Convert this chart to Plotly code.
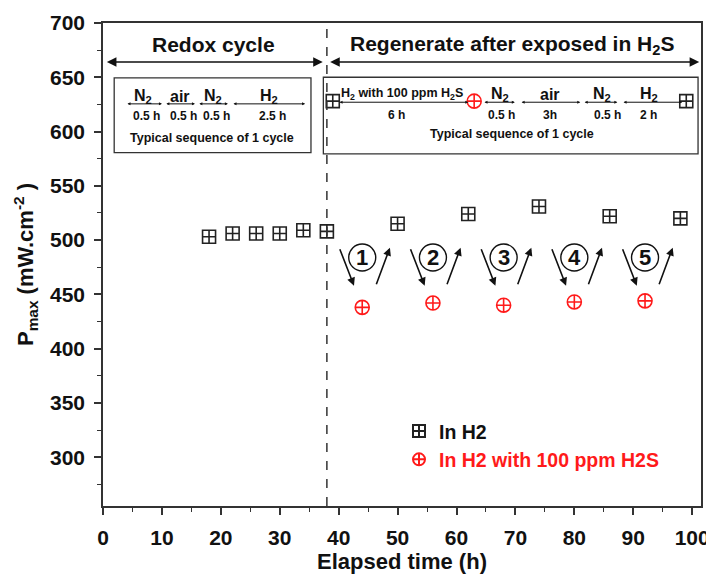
import plotly.graph_objects as go

# ---------------- data ----------------
h2_time = [18, 22, 26, 30, 34, 38, 50, 62, 74, 86, 98]
h2_pmax = [503, 506, 506, 506, 509, 508, 515, 524, 531, 522, 520]

h2s_time = [44, 56, 68, 80, 92]
h2s_pmax = [438, 442, 440, 443, 444]

cycle_labels = ["1", "2", "3", "4", "5"]

# markers drawn inside the "typical sequence" box
box_sq_time = [39, 99]
box_sq_pmax = [628, 628]
box_ci_time = [63]
box_ci_pmax = [628]

redox_seq = ["N<sub>2</sub>", "air", "N<sub>2</sub>", "H<sub>2</sub>"]
redox_dur = ["0.5 h", "0.5 h", "0.5 h", "2.5 h"]
regen_seq = ["H<sub>2</sub> with 100 ppm H<sub>2</sub>S", "N<sub>2</sub>", "air", "N<sub>2</sub>", "H<sub>2</sub>"]
regen_dur = ["6 h", "0.5 h", "3h", "0.5 h", "2 h"]

FONT = "Liberation Sans, Arial, sans-serif"
BLACK = "#111111"
RED = "#ff1a1a"

fig = go.Figure()

fig.add_trace(go.Scatter(
    x=h2_time, y=h2_pmax, mode="markers", name="In H2",
    marker=dict(symbol="square-cross-open", size=13, color="#222222",
                line=dict(width=1.6, color="#222222")),
))
fig.add_trace(go.Scatter(
    x=h2s_time, y=h2s_pmax, mode="markers",
    name="<span style='color:#ff1a1a'>In H2 with 100 ppm H2S</span>",
    marker=dict(symbol="circle-cross-open", size=14, color=RED,
                line=dict(width=1.6, color=RED)),
))
fig.add_trace(go.Scatter(
    x=box_sq_time, y=box_sq_pmax, mode="markers", showlegend=False,
    marker=dict(symbol="square-cross-open", size=13, color="#222222",
                line=dict(width=1.6, color="#222222")),
))
fig.add_trace(go.Scatter(
    x=box_ci_time, y=box_ci_pmax, mode="markers", showlegend=False,
    marker=dict(symbol="circle-cross-open", size=14, color=RED,
                line=dict(width=1.6, color=RED)),
))

shapes = []
annotations = []

# dashed divider
shapes.append(dict(type="line", xref="x", yref="paper", x0=38, x1=38, y0=0, y1=1,
                   line=dict(color="#333333", width=1.5, dash="dash")))

# boxes
shapes.append(dict(type="rect", xref="x", yref="y", x0=1.9, x1=35.3, y0=580.5, y1=649.5,
                   line=dict(color="#333333", width=1.3)))
shapes.append(dict(type="rect", xref="x", yref="y", x0=37.4, x1=101.0, y0=579.5, y1=650.0,
                   line=dict(color="#333333", width=1.3)))


def dbl_arrow(x0, x1, y, size=1.0, width=1.5, head=2):
    annotations.append(dict(x=x1, y=y, ax=x0, ay=y, xref="x", yref="y", axref="x", ayref="y",
                            text="", showarrow=True, arrowhead=head, startarrowhead=head,
                            arrowside="end+start", arrowsize=size, startarrowsize=size,
                            arrowwidth=width, arrowcolor="#111111"))


def text(x, y, s, size, color=BLACK, xanchor="center"):
    annotations.append(dict(x=x, y=y, xref="x", yref="y", text=s, showarrow=False,
                            font=dict(family=FONT, size=size, color=color, weight="bold"),
                            xanchor=xanchor, yanchor="middle"))


# section headers
text(18.7, 680, "Redox cycle", 21)
dbl_arrow(0.4, 37.3, 664, size=1.2, width=1.6)
text(69.4, 680, "Regenerate after exposed in H<sub>2</sub>S", 21)
dbl_arrow(38.3, 101.2, 664, size=1.2, width=1.6)

# redox typical sequence
redox_bounds = [(3.9, 10.0), (10.5, 15.6), (16.1, 21.2), (21.9, 34.3)]
redox_lab_x = [6.8, 13.1, 18.7, 28.2]
for (a, b), lab, dur, lx in zip(redox_bounds, redox_seq, redox_dur, redox_lab_x):
    dbl_arrow(a, b, 625.5, size=0.6, width=1.0)
    text(lx, 632, lab, 16)
    text(lx + 0.6, 614, dur, 12)
text(18.5, 594, "Typical sequence of 1 cycle", 12.5)

# regeneration typical sequence
regen_bounds = [(39.9, 62.0), (64.5, 69.9), (70.8, 81.0), (81.5, 87.3), (88.1, 98.3)]
regen_lab_x = [50.8, 67.4, 75.9, 84.7, 92.6]
regen_lab_y = [634.5, 634.5, 634.5, 634.5, 634.5]
regen_dur_x = [49.9, 67.7, 75.9, 85.6, 92.6]
regen_lab_size = [12.5, 16, 16, 16, 16]
for (a, b), lab, dur, lx, ly, dx, fs in zip(regen_bounds, regen_seq, regen_dur, regen_lab_x,
                                            regen_lab_y, regen_dur_x, regen_lab_size):
    dbl_arrow(a, b, 627, size=0.6, width=1.0)
    text(lx, ly, lab, fs)
    text(dx, 615, dur, 12)
text(69.5, 597.5, "Typical sequence of 1 cycle", 12.5)

# cycle markers: circled number with down/up arrows
for xc, lab in zip(h2s_time, cycle_labels):
    shapes.append(dict(type="circle", xref="x", yref="y", xsizemode="pixel", ysizemode="pixel",
                       xanchor=xc, yanchor=484, x0=-13.5, x1=13.5, y0=-13.5, y1=13.5,
                       line=dict(color="#111111", width=1.4)))
    annotations.append(dict(x=xc, y=484, xref="x", yref="y", text=lab,
                            showarrow=False,
                            font=dict(family=FONT, size=22, color=BLACK, weight="bold"),
                            xanchor="center", yanchor="middle"))
    annotations.append(dict(x=xc - 1.4, y=458, ax=xc - 3.9, ay=493, xref="x", yref="y",
                            axref="x", ayref="y", text="", showarrow=True, arrowhead=2,
                            arrowsize=1, arrowwidth=1.6, arrowcolor="#111111"))
    annotations.append(dict(x=xc + 4.7, y=493, ax=xc + 2.3, ay=458, xref="x", yref="y",
                            axref="x", ayref="y", text="", showarrow=True, arrowhead=2,
                            arrowsize=1, arrowwidth=1.6, arrowcolor="#111111"))

# the page body adds an 8 px offset, so the figure is 8 px smaller than the window
fig.update_layout(
    width=706, height=566,
    margin=dict(l=95, r=13, t=15, b=68, autoexpand=False),
    paper_bgcolor="white", plot_bgcolor="white",
    font=dict(family=FONT, color=BLACK),
    shapes=shapes, annotations=annotations,
    showlegend=True,
    legend=dict(x=0.495, y=0.195, xanchor="left", yanchor="top", bgcolor="rgba(0,0,0,0)",
                font=dict(family=FONT, size=19.5, color=BLACK, weight="bold"), tracegroupgap=0,
                itemsizing="constant"),
)

fig.update_xaxes(
    range=[0, 101.5], tickvals=list(range(0, 101, 10)), ticks="outside", ticklen=7,
    tickwidth=1.5, tickcolor="#333333", showline=True, linecolor="#333333", linewidth=1.5,
    mirror=True, showgrid=False, zeroline=False, ticklabelstandoff=5, automargin=False,
    tickfont=dict(family=FONT, size=21, color=BLACK, weight="bold"),
    minor=dict(dtick=5, tick0=0, ticks="outside", ticklen=4, tickwidth=1.3, tickcolor="#333333"),
    title=dict(text="Elapsed time (h)",
               font=dict(family=FONT, size=22, color=BLACK, weight="bold"), standoff=2),
)
fig.update_yaxes(
    range=[255, 700], tickvals=list(range(300, 701, 50)), ticks="outside", ticklen=7,
    tickwidth=1.5, tickcolor="#333333", showline=True, linecolor="#333333", linewidth=1.5,
    mirror=True, showgrid=False, zeroline=False, ticklabelstandoff=5, automargin=False,
    tickfont=dict(family=FONT, size=21, color=BLACK, weight="bold"),
    minor=dict(dtick=25, tick0=0, ticks="outside", ticklen=4, tickwidth=1.3, tickcolor="#333333"),
    title=dict(text="P<sub>max</sub> (mW.cm<sup>-2</sup> )",
               font=dict(family=FONT, size=22, color=BLACK, weight="bold"), standoff=10),
)

fig.write_html("out.html")
